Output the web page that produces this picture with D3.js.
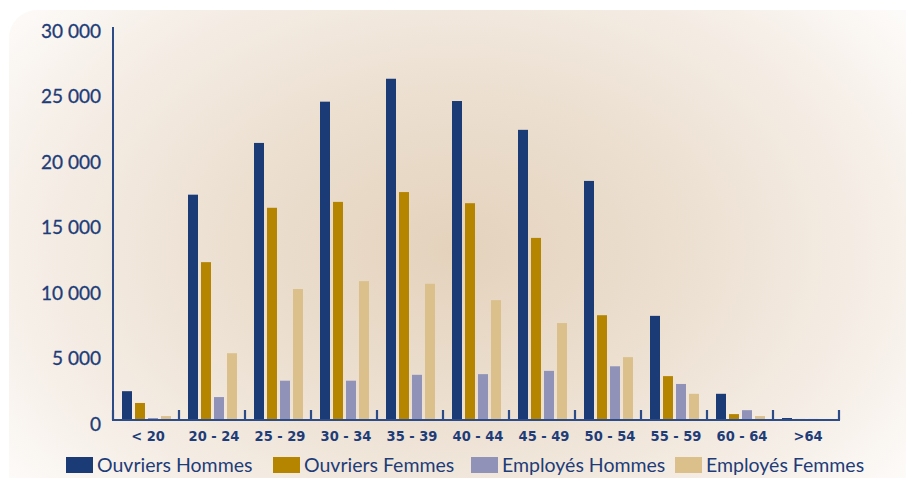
<!DOCTYPE html>
<html><head><meta charset="utf-8">
<script src="https://cdn.jsdelivr.net/npm/d3@7"></script>
<style>html,body{margin:0;padding:0;background:#fff;} svg{display:block}</style>
</head><body>
<svg id="chart" width="906" height="478"></svg>
<script>
const categories = ["< 20","20 - 24","25 - 29","30 - 34","35 - 39","40 - 44","45 - 49","50 - 54","55 - 59","60 - 64",">64"];
const seriesNames = ["Ouvriers Hommes","Ouvriers Femmes","Employés Hommes","Employés Femmes"];
const ouvriersHommes = [2200,17200,21150,24300,26050,24350,22150,18250,7950,2000,150];
const ouvriersFemmes = [1300,12050,16200,16650,17400,16550,13900,8000,3350,450,80];
const employesHommes = [150,1750,3000,3000,3450,3500,3750,4100,2750,750,80];
const employesFemmes = [300,5100,10000,10600,10400,9150,7400,4800,2000,300,60];
const yTicks = [0,5000,10000,15000,20000,25000,30000];
const seriesValues = [ouvriersHommes, ouvriersFemmes, employesHommes, employesFemmes];
const colors = ["#1b3b76","#b58500","#9092b8","#dcc08b"];
const navy = "#1e3c78";
const axisColor = "#2d4b86";

const svg = d3.select("#chart");

// background
const defs = svg.append("defs");
const grad = defs.append("radialGradient").attr("id","bg")
  .attr("gradientUnits","userSpaceOnUse")
  .attr("cx",455).attr("cy",250).attr("r",560)
  .attr("gradientTransform","translate(455,250) scale(1,0.7) translate(-455,-250)");
[[0,"#e4d2bc"],[0.45,"#ede1d3"],[0.78,"#f6efe8"],[1,"#fdfbf9"]].forEach(s=>
  grad.append("stop").attr("offset",s[0]).attr("stop-color",s[1]));
svg.append("rect").attr("x",9).attr("y",10).attr("width",940).attr("height",520)
  .attr("rx",28).attr("fill","url(#bg)");

const x0 = d3.scaleBand().domain(categories).range([113,839]).padding(0);
const x1 = d3.scaleBand().domain(d3.range(seriesNames.length)).range([9,58]).paddingInner(3/13).paddingOuter(0);
const y = d3.scaleLinear().domain([0,30000]).range([420,27]);

// bars
const groups = svg.append("g").selectAll("g").data(categories).join("g")
  .attr("transform", c => `translate(${x0(c)},0)`);
groups.selectAll("rect").data((c,i)=>seriesValues.map((s,k)=>({k, v:s[i]}))).join("rect")
  .attr("x", d=>x1(d.k)).attr("width", x1.bandwidth())
  .attr("y", d=>y(d.v)).attr("height", d=>y(0)-y(d.v))
  .attr("fill", d=>colors[d.k]);

// y axis
const yAxis = svg.append("g").attr("transform","translate(113,0)")
  .call(d3.axisLeft(y).tickValues(yTicks).tickSize(0).tickPadding(12)
    .tickFormat(d => d3.format(",")(d).replace(/,/g," ")));
yAxis.select(".domain").remove();
yAxis.selectAll("text").attr("y",4).attr("fill",navy)
  .style("font-family","Lato, 'Open Sans', sans-serif").style("font-size","19px")
  .style("stroke",navy).style("stroke-width","0.3px");
svg.append("line").attr("x1",113).attr("x2",113).attr("y1",y(30000)).attr("y2",y(0)+1)
  .attr("stroke",axisColor).attr("stroke-width",2);

// x axis
svg.append("line").attr("x1",112).attr("x2",x0.range()[1]+1).attr("y1",y(0)).attr("y2",y(0))
  .attr("stroke",axisColor).attr("stroke-width",2.2);
const boundaries = [x0.range()[0]].concat(categories.map(c=>x0(c)+x0.bandwidth()));
svg.append("g").selectAll("line").data(boundaries).join("line")
  .attr("x1",d=>d).attr("x2",d=>d).attr("y1",y(0)).attr("y2",y(0)-10)
  .attr("stroke",axisColor).attr("stroke-width",2.2);
const xAxis = svg.append("g").attr("transform",`translate(0,${y(0)})`)
  .call(d3.axisBottom(x0).tickSize(0).tickPadding(0));
xAxis.select(".domain").remove();
xAxis.selectAll("text").attr("y",16).attr("dy","0.33em").attr("x",2).attr("fill",navy)
  .style("font-family","'DejaVu Sans Condensed', 'Liberation Sans Narrow', sans-serif")
  .style("font-weight","bold").style("font-size","14.5px");

// legend
const legendX = [66,273,471,675];
const legend = svg.append("g").selectAll("g").data(seriesNames).join("g")
  .attr("transform",(d,i)=>`translate(${legendX[i]},457)`);
legend.append("rect").attr("width",27).attr("height",16).attr("fill",(d,i)=>colors[i]);
legend.append("text").attr("x",31).attr("y",8).attr("dy","0.36em").text(d=>d)
  .attr("fill",navy).style("font-family","Lato, 'Open Sans', sans-serif").style("font-size","19.5px");
</script>
</body></html>
